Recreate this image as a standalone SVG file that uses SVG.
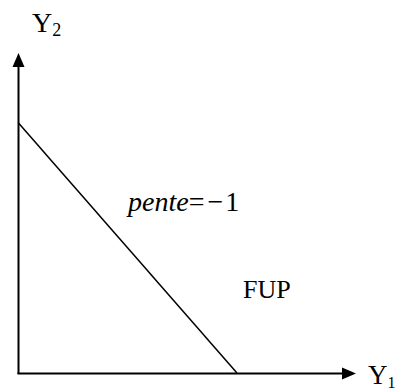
<svg xmlns="http://www.w3.org/2000/svg" width="395" height="389" viewBox="0 0 395 389">
<style>
.ax{stroke:#000;stroke-width:2;fill:none}
.ln{stroke:#000;stroke-width:1.5;fill:none}
.ah{fill:#000}
text{font-family:"Liberation Serif","Times New Roman",serif;fill:#000}
</style>
<rect width="395" height="389" fill="#fff"/>
<g id="connectors">
<line class="ax" x1="18.5" y1="374" x2="18.5" y2="66"/>
<polygon class="ah" points="18.5,53 12.5,67 24.5,67"/>
<line class="ax" x1="17.5" y1="373.5" x2="344" y2="373.5"/>
<polygon class="ah" points="356,373.5 342,367.5 342,379.5"/>
<line class="ln" x1="18.5" y1="123" x2="237" y2="373"/>
</g>
<g id="y2"><text x="32" y="32" font-size="28">Y<tspan font-size="18" dy="4">2</tspan></text></g>
<g id="y1"><text x="368" y="384" font-size="27">Y<tspan font-size="16" dy="4">1</tspan></text></g>
<g id="pente"><text x="128" y="211" font-size="28"><tspan font-style="italic">pente</tspan>=<tspan dx="3">−</tspan><tspan dx="2">1</tspan></text></g>
<g id="fup"><text x="243" y="298" font-size="26">FUP</text></g>
</svg>
